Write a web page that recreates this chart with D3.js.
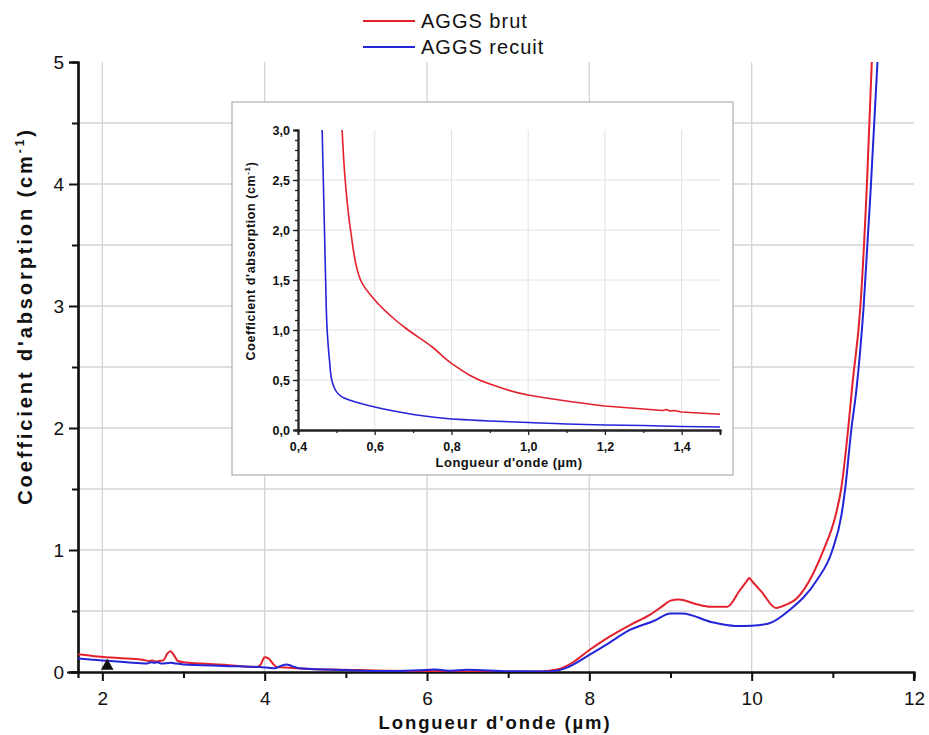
<!DOCTYPE html>
<html><head><meta charset="utf-8">
<script src="https://cdn.jsdelivr.net/npm/d3@7"></script>
<style>body{margin:0;background:#fff} text{font-family:"Liberation Sans",Arial,sans-serif;fill:#111}</style>
</head><body>
<svg id="c" width="929" height="735"></svg>
<script>
// ---------- data ----------
const seriesNames = ["AGGS brut", "AGGS recuit"];
const seriesColors = ["#e3202b", "#2424d8"];

// main chart (wavelength µm, absorption cm-1)
const brutX = [1.7,1.9,2.2,2.5,2.58,2.62,2.66,2.7,2.75,2.8,2.84,2.88,2.93,3.0,3.5,3.9,3.95,4.0,4.05,4.1,4.15,4.3,4.5,5.0,5.5,6.0,6.5,7.0,7.4,7.6,7.8,8.0,8.2,8.5,8.75,8.9,9.0,9.1,9.3,9.5,9.7,9.85,9.94,9.97,10.0,10.12,10.3,10.4,10.55,10.76,10.88,11.04,11.1,11.19,11.24,11.34,11.42,11.48];
const brutY = [0.145,0.13,0.115,0.10,0.09,0.095,0.085,0.09,0.095,0.15,0.17,0.14,0.09,0.08,0.06,0.04,0.06,0.12,0.11,0.07,0.04,0.035,0.027,0.018,0.01,0.008,0.005,0.002,0.005,0.02,0.08,0.18,0.27,0.385,0.47,0.54,0.585,0.595,0.56,0.535,0.535,0.666,0.745,0.77,0.748,0.659,0.525,0.545,0.6,0.81,0.99,1.3,1.49,2.0,2.35,3.0,4.0,5.0];
const recuitX = [1.7,2.0,2.3,2.55,2.6,2.64,2.68,2.72,2.85,2.9,3.0,3.5,3.95,4.05,4.12,4.2,4.27,4.33,4.45,5.0,5.5,5.9,6.1,6.3,6.5,7.0,7.5,7.7,8.0,8.2,8.5,8.8,9.0,9.15,9.5,9.8,10.0,10.2,10.47,10.8,10.99,11.11,11.15,11.23,11.29,11.38,11.47,11.55];
const recuitY = [0.11,0.095,0.08,0.07,0.08,0.075,0.08,0.07,0.075,0.07,0.062,0.05,0.04,0.035,0.03,0.05,0.062,0.05,0.028,0.016,0.008,0.015,0.02,0.01,0.018,0.006,0.005,0.03,0.14,0.22,0.345,0.42,0.48,0.48,0.41,0.378,0.38,0.395,0.51,0.75,0.99,1.3,1.49,2.0,2.31,3.0,4.0,5.0];
const markerX = [2.06];
const markerY = [0];

// inset (visible range)
const insetBrutX = [0.515,0.523,0.537,0.563,0.6,0.654,0.68,0.75,0.8,0.9,1.0,1.1,1.2,1.3,1.35,1.36,1.37,1.38,1.4,1.5];
const insetBrutY = [3.0,2.5,2.0,1.5,1.3,1.1,1.02,0.83,0.667,0.46,0.35,0.29,0.24,0.21,0.195,0.205,0.19,0.195,0.18,0.157];
const insetRecuitX = [0.463,0.466,0.469,0.472,0.476,0.482,0.488,0.495,0.505,0.52,0.55,0.6,0.65,0.7,0.75,0.8,0.85,0.9,1.0,1.1,1.2,1.3,1.4,1.5];
const insetRecuitY = [3.0,2.5,2.0,1.5,1.0,0.7,0.5,0.42,0.36,0.32,0.28,0.23,0.19,0.155,0.13,0.11,0.1,0.09,0.075,0.06,0.05,0.045,0.035,0.03];

// tick labels
const mainXTicks = [2,4,6,8,10,12];
const mainYTicks = [0,1,2,3,4,5];
const insetXTicks = [0.4,0.6,0.8,1.0,1.2,1.4];
const insetYTicks = [0,0.5,1.0,1.5,2.0,2.5,3.0];

// ---------- drawing ----------
const svg = d3.select("#c");
const x = d3.scaleLinear([1.7, 12], [78, 914]);
const y = d3.scaleLinear([0, 5], [672, 62]);
const gridCol = "#d4d4d4";

// grid
const grid = svg.append("g");
grid.selectAll("line.h").data(d3.range(0.5, 5.0, 0.5)).join("line")
  .attr("x1", x(1.7)).attr("x2", x(12)).attr("y1", d => y(d)).attr("y2", d => y(d))
  .attr("stroke", gridCol).attr("stroke-width", 1.3);
grid.selectAll("line.v").data([2,4,6,8,10]).join("line")
  .attr("x1", d => x(d)).attr("x2", d => x(d)).attr("y1", y(0)).attr("y2", y(5))
  .attr("stroke", gridCol).attr("stroke-width", 1.3);

// axes
const gx = svg.append("g").attr("transform", `translate(0,${y(0)})`)
  .call(d3.axisBottom(x).tickValues(mainXTicks).tickSize(9).tickFormat(d3.format("d")));
const gxm = svg.append("g").attr("transform", `translate(0,${y(0)})`)
  .call(d3.axisBottom(x).tickValues([3,5,7,9,11]).tickSize(6).tickFormat(""));
const gy = svg.append("g").attr("transform", `translate(${x(1.7)},0)`)
  .call(d3.axisLeft(y).tickValues(mainYTicks).tickSize(9).tickFormat(d3.format("d")));
const gym = svg.append("g").attr("transform", `translate(${x(1.7)},0)`)
  .call(d3.axisLeft(y).tickValues(d3.range(0.5,5,1)).tickSize(6).tickFormat(""));
[gx, gxm, gy, gym].forEach(g => {
  g.select(".domain").attr("stroke", "#111").attr("stroke-width", 2.2);
  g.selectAll(".tick line").attr("stroke", "#111").attr("stroke-width", 2);
  g.selectAll(".tick text").style("font-size", "19px").attr("fill", "#111");
});
gx.selectAll(".tick text").attr("dy", "1.12em");
gy.selectAll(".tick text").attr("x", -14);
gx.select(".domain").attr("d", `M${x(1.7)-11},0.5H${x(12)}V9`);

// axis titles
svg.append("text").attr("x", 495).attr("y", 729).attr("text-anchor", "middle")
  .style("font-size", "18.5px").style("font-weight", "bold").style("letter-spacing", "1.9px")
  .text("Longueur d'onde (µm)");
const yl = svg.append("text").attr("transform", "translate(32,316) rotate(-90)")
  .attr("text-anchor", "middle").style("font-size", "20px").style("font-weight", "bold")
  .style("letter-spacing", "2.9px");
yl.append("tspan").text("Coefficient d'absorption (cm");
yl.append("tspan").attr("dy", -8).style("font-size", "12px").text("-1");
yl.append("tspan").attr("dy", 8).text(")");

// lines
svg.append("clipPath").attr("id", "mclip").append("rect")
  .attr("x", x(1.7)).attr("y", y(5) - 1).attr("width", x(12) - x(1.7)).attr("height", y(0) - y(5) + 1);
const line = d3.line().curve(d3.curveMonotoneX).x(d => x(d[0])).y(d => y(d[1]));
const mainSeries = [d3.zip(brutX, brutY), d3.zip(recuitX, recuitY)];
svg.append("g").attr("clip-path", "url(#mclip)").selectAll("path").data(mainSeries).join("path")
  .attr("d", line).attr("fill", "none").attr("stroke", (d, i) => seriesColors[i])
  .attr("stroke-width", 2).attr("stroke-linejoin", "round");

// marker triangle
svg.selectAll("path.mk").data(d3.zip(markerX, markerY)).join("path").attr("class", "mk")
  .attr("transform", d => `translate(${x(d[0])},${y(d[1]) - 6})`)
  .attr("d", d3.symbol(d3.symbolTriangle, 70)).attr("fill", "#111");

// legend
const lg = svg.append("g");
seriesNames.forEach((n, i) => {
  const yy = 21 + i * 26;
  lg.append("line").attr("x1", 363).attr("x2", 415).attr("y1", yy).attr("y2", yy)
    .attr("stroke", seriesColors[i]).attr("stroke-width", 2);
  lg.append("text").attr("x", 421).attr("y", yy + 7).style("font-size", "20px")
    .style("letter-spacing", "1px").text(n);
});

// ---------- inset ----------
const ins = svg.append("g");
ins.append("rect").attr("x", 232).attr("y", 102).attr("width", 501).attr("height", 373)
  .attr("fill", "#fff").attr("stroke", "#b0b0b0").attr("stroke-width", 1.2);
const xi = d3.scaleLinear([0.4, 1.5], [298, 720]);
const yi = d3.scaleLinear([0, 3], [430, 130]);
const igCol = "#e2e2e2";
ins.selectAll("line.ih").data([0.5,1.0,1.5,2.0,2.5]).join("line")
  .attr("x1", xi(0.4)).attr("x2", xi(1.5)).attr("y1", d => yi(d)).attr("y2", d => yi(d))
  .attr("stroke", igCol).attr("stroke-width", 1);
ins.selectAll("line.iv").data([0.6,0.8,1.0,1.2,1.4]).join("line")
  .attr("x1", d => xi(d)).attr("x2", d => xi(d)).attr("y1", yi(0)).attr("y2", yi(3))
  .attr("stroke", igCol).attr("stroke-width", 1);

const fmtC = d => d3.format(".1f")(d).replace(".", ",");
const igx = ins.append("g").attr("transform", `translate(0,${yi(0)})`)
  .call(d3.axisBottom(xi).tickValues(insetXTicks).tickSize(5).tickFormat(fmtC));
const igxm = ins.append("g").attr("transform", `translate(0,${yi(0)})`)
  .call(d3.axisBottom(xi).tickValues([0.5,0.7,0.9,1.1,1.3,1.5]).tickSize(3).tickFormat(""));
const igy = ins.append("g").attr("transform", `translate(${xi(0.4)},0)`)
  .call(d3.axisLeft(yi).tickValues(insetYTicks).tickSize(5).tickFormat(fmtC));
const igym = ins.append("g").attr("transform", `translate(${xi(0.4)},0)`)
  .call(d3.axisLeft(yi).tickValues(d3.range(0.1, 3.0, 0.1)).tickSize(3).tickFormat(""));
[igx, igxm, igy, igym].forEach(g => {
  g.select(".domain").attr("stroke", "#222").attr("stroke-width", 1.8);
  g.selectAll(".tick line").attr("stroke", "#222").attr("stroke-width", 1.3);
  g.selectAll(".tick text").style("font-size", "12.5px").style("font-weight", "bold").attr("fill", "#222");
});
igy.selectAll(".tick text").attr("x", -8);
igx.selectAll(".tick text").attr("dy", "1.0em");

ins.append("text").attr("x", 509).attr("y", 467).attr("text-anchor", "middle")
  .style("font-size", "13px").style("font-weight", "bold").style("letter-spacing", "0.5px")
  .text("Longueur d'onde (µm)");
const iyl = ins.append("text").attr("transform", "translate(255,261) rotate(-90)")
  .attr("text-anchor", "middle").style("font-size", "12.5px").style("font-weight", "bold")
  .style("letter-spacing", "0.6px");
iyl.append("tspan").text("Coefficient d'absorption (cm");
iyl.append("tspan").attr("dy", -5).style("font-size", "8px").text("-1");
iyl.append("tspan").attr("dy", 5).text(")");

svg.append("clipPath").attr("id", "iclip").append("rect")
  .attr("x", xi(0.4)).attr("y", yi(3)).attr("width", xi(1.5) - xi(0.4)).attr("height", yi(0) - yi(3));
const iline = d3.line().curve(d3.curveMonotoneY).x(d => xi(d[0])).y(d => yi(d[1]));
const insetSeries = [d3.zip(insetBrutX, insetBrutY), d3.zip(insetRecuitX, insetRecuitY)];
ins.append("g").attr("clip-path", "url(#iclip)").selectAll("path").data(insetSeries).join("path")
  .attr("d", d => iline(d.slice(0, d.findIndex(p => p[0] >= 1.3)))
        + "L" + d.slice(d.findIndex(p => p[0] >= 1.3)).map(p => `${xi(p[0])},${yi(p[1])}`).join("L"))
  .attr("fill", "none").attr("stroke", (d, i) => seriesColors[i])
  .attr("stroke-width", 1.6).attr("stroke-linejoin", "round");
</script>
</body></html>
